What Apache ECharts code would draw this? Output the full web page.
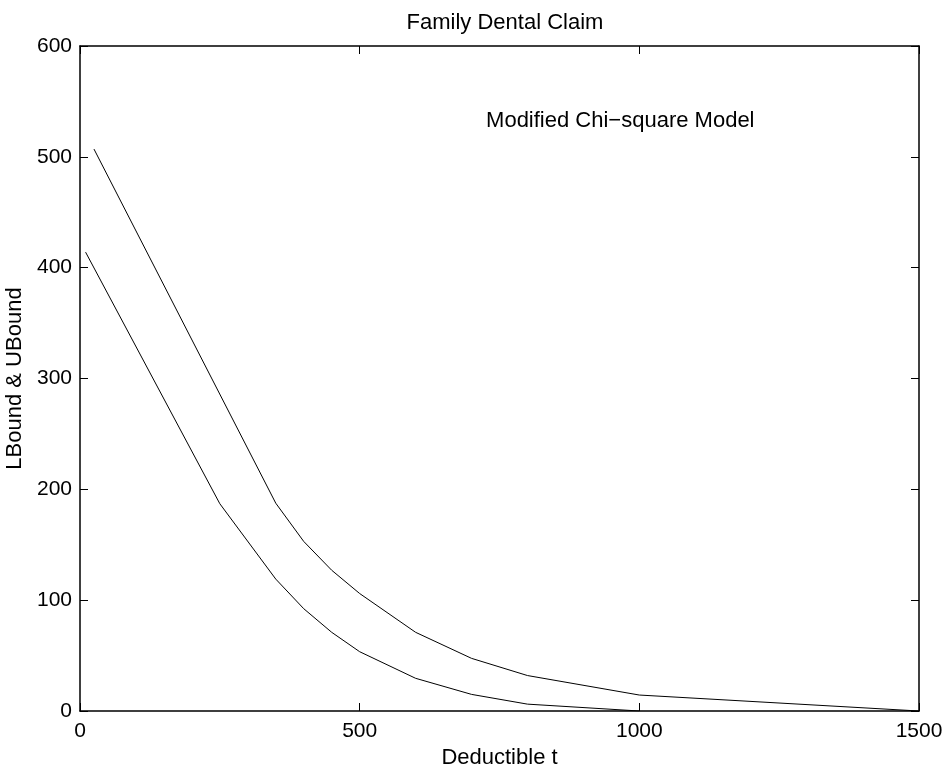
<!DOCTYPE html>
<html>
<head>
<meta charset="utf-8">
<script src="https://cdn.jsdelivr.net/npm/echarts@6/dist/echarts.min.js"></script>
<style>html,body{margin:0;padding:0;background:#fff;}#c{width:949px;height:769px;}</style>
</head>
<body>
<div id="c"></div>
<script>
const upperX = [25, 350, 400, 450, 500, 600, 700, 800, 1000, 1500];
const upperY = [507, 187.5, 153, 127, 106, 71, 47.5, 32, 14.4, 0];
const lowerX = [10, 250, 350, 400, 450, 500, 600, 700, 800, 1000];
const lowerY = [414, 187, 119, 92.3, 71, 53.5, 29.5, 15, 6.2, 0];
const xTicks = [0, 500, 1000, 1500];
const yTicks = [0, 100, 200, 300, 400, 500, 600];
const annotation = { x: 726, y: 532, text: 'Modified Chi\u2212square Model' };
const titleText = 'Family Dental Claim';
const xName = 'Deductible t';
const yName = 'LBound & UBound';

const font = 'Liberation Sans, Arial, Helvetica, sans-serif';
const pair = (xs, ys) => xs.map((x, i) => [x, ys[i]]);
const axisCommon = {
  type: 'value',
  axisLine: { show: true, onZero: false, lineStyle: { color: '#000', width: 1.5 } },
  axisTick: { show: true, inside: true, length: 8, lineStyle: { color: '#000', width: 1 } },
  splitLine: { show: false },
  axisLabel: { color: '#000', fontSize: 21, fontFamily: font, formatter: v => String(v) }
};

const chart = echarts.init(document.getElementById('c'), null, { renderer: 'canvas' });
chart.setOption({
  animation: false,
  backgroundColor: '#fff',
  title: {
    text: titleText, left: 500, top: 7, textAlign: 'center',
    textStyle: { color: '#000', fontSize: 22, fontWeight: 'normal', fontFamily: font }
  },
  grid: { left: 80, right: 30, top: 46, bottom: 58, containLabel: false, outerBoundsMode: 'none' },
  xAxis: [
    Object.assign({}, axisCommon, {
      min: xTicks[0], max: xTicks[xTicks.length - 1], interval: 500, position: 'bottom',
      name: xName, nameLocation: 'middle', nameGap: 28,
      nameTextStyle: { color: '#000', fontSize: 22, fontFamily: font },
      axisLabel: Object.assign({}, axisCommon.axisLabel, { margin: 10 })
    }),
    Object.assign({}, axisCommon, {
      min: xTicks[0], max: xTicks[xTicks.length - 1], interval: 500, position: 'top',
      axisLabel: { show: false }
    })
  ],
  yAxis: [
    Object.assign({}, axisCommon, {
      min: yTicks[0], max: yTicks[yTicks.length - 1], interval: 100, position: 'left',
      name: yName, nameLocation: 'middle', nameGap: 46,
      nameTextStyle: { color: '#000', fontSize: 22, fontFamily: font },
      axisLabel: Object.assign({}, axisCommon.axisLabel, { margin: 8 })
    }),
    Object.assign({}, axisCommon, {
      min: yTicks[0], max: yTicks[yTicks.length - 1], interval: 100, position: 'right',
      axisLabel: { show: false }
    })
  ],
  series: [
    {
      type: 'line', data: pair(upperX, upperY), showSymbol: false, symbol: 'none',
      lineStyle: { color: '#000', width: 1 }, z: 3
    },
    {
      type: 'line', data: pair(lowerX, lowerY), showSymbol: false, symbol: 'none',
      lineStyle: { color: '#000', width: 1 }, z: 3
    },
    {
      type: 'scatter', data: [[annotation.x, annotation.y]], symbolSize: 0,
      itemStyle: { opacity: 1, color: '#000' },
      emphasis: { disabled: true },
      label: {
        show: true, position: 'inside', formatter: annotation.text, align: 'left',
        verticalAlign: 'middle', color: '#000', opacity: 1, fontSize: 22, fontFamily: font
      }
    }
  ]
});
</script>
</body>
</html>
